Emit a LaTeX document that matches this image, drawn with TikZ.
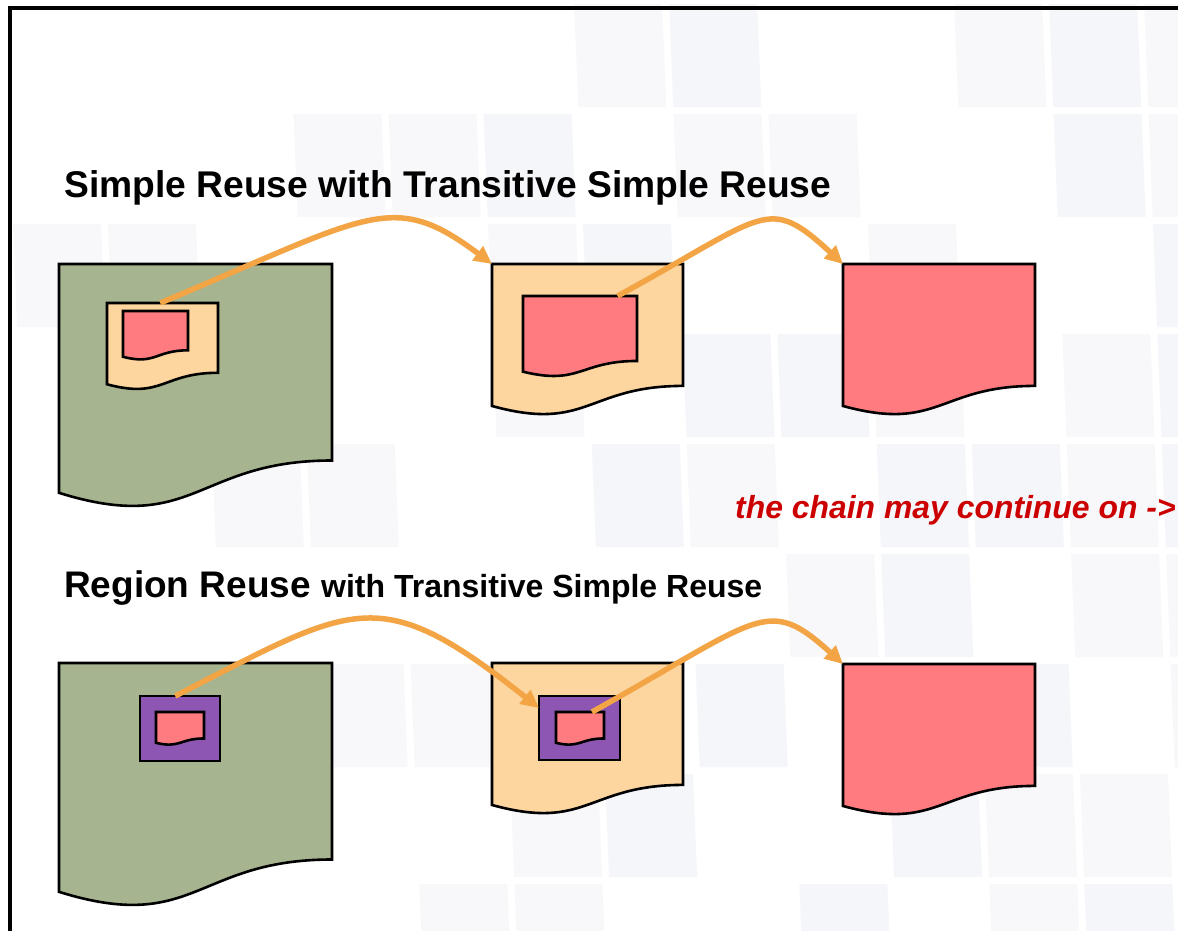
\documentclass[tikz,border=0pt]{standalone}
\usepackage{fontspec}
\setmainfont{Liberation Sans}
\usetikzlibrary{arrows.meta,calc}

\definecolor{docgreen}{RGB}{166,180,143}
\definecolor{docpeach}{RGB}{252,213,159}
\definecolor{docpink}{RGB}{255,123,128}
\definecolor{regionpurple}{RGB}{142,86,179}
\definecolor{arroworange}{RGB}{243,165,69}
\definecolor{chainred}{RGB}{204,0,0}
\definecolor{tilelight}{RGB}{248,248,251}
\definecolor{tiledark}{RGB}{245,246,250}

\tikzset{
  outline/.style={draw=black, line width=2.6pt, line join=miter},
  reusearrow/.style={draw=arroworange, line width=5.5pt,
    -{Triangle[length=18pt,width=17pt]}},
  anchorbox/.style={inner sep=0pt, outer sep=0pt, draw=none, fill=none},
  regionbox/.style={outline, fill=regionpurple, inner sep=0pt, outer sep=0pt},
  heading/.style={anchor=base west, inner sep=0pt, font=\bfseries},
  tilebox/.style={draw=none},
}

% document shape with a wavy lower edge: name, left, top, width, height, fill
\newcommand{\wavedoc}[6]{%
  \node[anchorbox, minimum width=#4pt, minimum height=#5pt] (#1) at ({#2+#4/2},{#3+#5/2}) {};
  \draw[outline, fill=#6] (#2,#3) -- ({#2+#4},#3) -- ({#2+#4},{#3+0.802*#5})
    .. controls ({#2+0.5*#4},{#3+0.802*#5}) and ({#2+0.5*#4},{#3+1.1075*#5})
    .. (#2,{#3+0.934*#5}) -- cycle;
}

\begin{document}
\begin{tikzpicture}[x=1pt,y=-1pt]
\useasboundingbox (0,0) rectangle (1178,930);
\fill[white] (0,0) rectangle (1178,930);

% faint tiled backdrop, slightly slanted
\begin{scope}[xslant=-0.04]
\foreach \c/\r/\t in {6/0/tilelight,7/0/tiledark,10/0/tilelight,11/0/tiledark,12/0/tilelight,
  3/1/tilelight,4/1/tilelight,5/1/tiledark,7/1/tilelight,8/1/tilelight,11/1/tiledark,12/1/tilelight,
  0/2/tilelight,1/2/tilelight,5/2/tilelight,6/2/tiledark,9/2/tilelight,12/2/tiledark,
  5/3/tilelight,7/3/tiledark,8/3/tiledark,9/3/tilelight,11/3/tilelight,12/3/tiledark,
  2/4/tilelight,3/4/tilelight,6/4/tiledark,7/4/tilelight,9/4/tiledark,10/4/tiledark,11/4/tilelight,12/4/tiledark,
  8/5/tilelight,9/5/tiledark,11/5/tilelight,12/5/tilelight,
  3/6/tilelight,4/6/tilelight,7/6/tiledark,9/6/tilelight,10/6/tiledark,12/6/tilelight,
  5/7/tilelight,6/7/tiledark,9/7/tiledark,10/7/tilelight,11/7/tilelight,
  4/8/tilelight,5/8/tilelight,8/8/tiledark,10/8/tilelight,11/8/tiledark}
  \fill[tilebox, fill=\t] ({\c*95+4},{\r*110+4}) rectangle +(88,103);
\end{scope}

% frame
\draw[line width=4pt, line join=miter] (10,940) -- (10,8) -- (1190,8);

% headings
\node[heading, font=\bfseries\fontsize{37.2}{44}\selectfont] (title1) at (64,197)
  {Simple Reuse with Transitive Simple Reuse};
\node[heading, font=\bfseries\fontsize{37}{44}\selectfont] (title2) at (64,597)
  {Region Reuse {\fontsize{32}{38}\selectfont with Transitive Simple Reuse}};
\node[heading, font=\bfseries\itshape\fontsize{31.9}{38}\selectfont, text=chainred] (chain) at (735,518)
  {the chain may continue on ->};

% simple reuse chain
\wavedoc{doc1}{59}{264}{273}{245}{docgreen}
\wavedoc{part1}{107}{303}{111}{87}{docpeach}
\wavedoc{piece1}{123}{311}{65}{49}{docpink}
\wavedoc{doc2}{492}{264}{191}{152}{docpeach}
\wavedoc{piece2}{523}{296}{114}{81}{docpink}
\wavedoc{doc3}{843}{264}{192}{152}{docpink}

% region reuse chain
\wavedoc{doc4}{59}{663}{273}{245}{docgreen}
\node[regionbox, minimum width=80pt, minimum height=65pt] (reg1) at (180,728.5) {};
\wavedoc{piece4}{156}{712}{48}{33}{docpink}
\wavedoc{doc5}{492}{663}{191}{152}{docpeach}
\node[regionbox, minimum width=81pt, minimum height=64pt] (reg2) at (579.5,728) {};
\wavedoc{piece5}{556}{712}{48}{33}{docpink}
\wavedoc{doc6}{843}{664}{192}{152}{docpink}

% reuse arrows
\draw[reusearrow] ($(part1.north west)!0.48!(part1.north east)$)
  .. controls +(210,-88) and +(-100,-75) .. (doc2.north west);
\draw[reusearrow] ($(piece2.north west)!0.83!(piece2.north east)$)
  .. controls +(150,-82) and +(-76,-70) .. (doc3.north west);
\draw[reusearrow] ($(reg1.north west)!0.44!(reg1.north east)$)
  .. controls +(180,-92) and +(-161,-128) .. ($(reg2.north west)+(0,12)$);
\draw[reusearrow] ($(piece5.north west)!0.75!(piece5.north east)$)
  .. controls +(170,-95) and +(-76,-69) .. (doc6.north west);
\end{tikzpicture}
\end{document}
